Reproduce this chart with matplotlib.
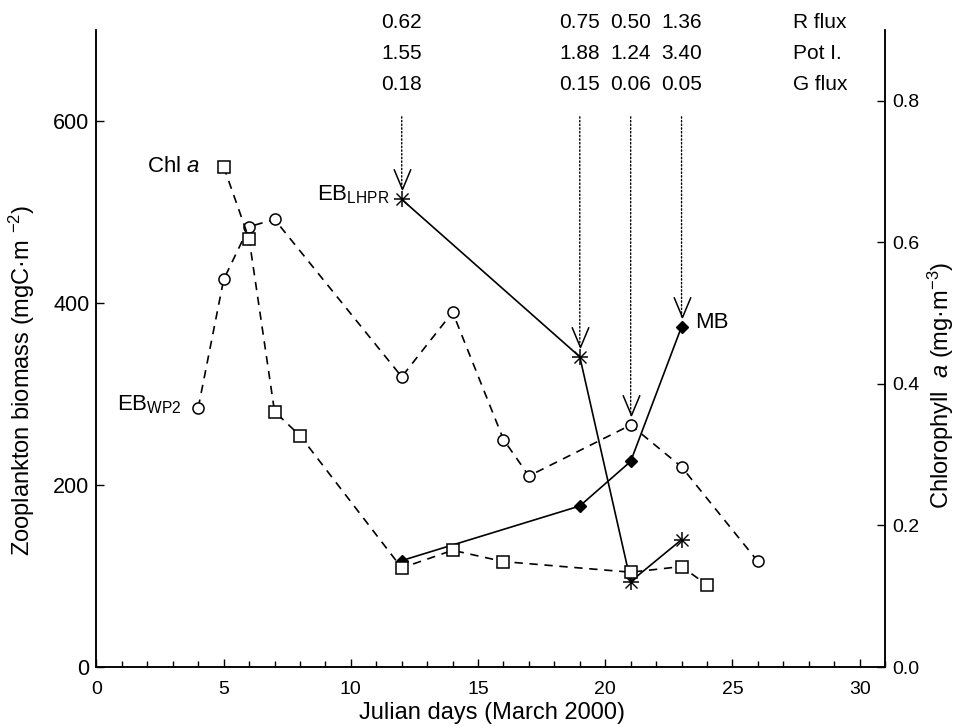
import numpy as np
import matplotlib
matplotlib.use('Agg')
import matplotlib.pyplot as plt
import matplotlib.transforms as mtransforms
from matplotlib.path import Path
from matplotlib.ticker import MultipleLocator, FormatStrFormatter

plt.rcParams['font.family'] = ['Liberation Sans', 'DejaVu Sans']
plt.rcParams['mathtext.fontset'] = 'custom'
plt.rcParams['mathtext.rm'] = 'Liberation Sans'
plt.rcParams['mathtext.it'] = 'Liberation Sans:italic'

# zooplankton biomass, WP2 net (mgC m-2)
wp2_days = [4, 5, 6, 7, 12, 14, 16, 17, 21, 23, 26]
wp2_biomass = [285, 426, 484, 492, 319, 390, 250, 210, 266, 220, 116]
# chlorophyll a (mg m-3)
chl_days = [5, 6, 7, 8, 12, 14, 16, 21, 23, 24]
chl_a = [0.707, 0.605, 0.361, 0.327, 0.140, 0.165, 0.149, 0.134, 0.142, 0.116]
# zooplankton biomass, LHPR
lhpr_days = [12, 19, 21, 23]
lhpr_biomass = [514, 341, 94, 140]
# MB
mb_days = [12, 19, 21, 23]
mb_biomass = [117, 177, 226, 374]

# flux table at top
flux_days = [12, 19, 21, 23]
r_flux = ['0.62', '0.75', '0.50', '1.36']
pot_i = ['1.55', '1.88', '1.24', '3.40']
g_flux = ['0.18', '0.15', '0.06', '0.05']
row_names = ['R flux', 'Pot I.', 'G flux']

# arrows point at these samples
flux_targets = [lhpr_biomass[0], lhpr_biomass[1],
                wp2_biomass[wp2_days.index(21)], mb_biomass[mb_days.index(23)]]

fig = plt.figure(figsize=(9.64, 7.27), dpi=100)
ax = fig.add_axes([0.1001, 0.0825, 0.818, 0.876])
ax2 = ax.twinx()

# lines
ax.plot(wp2_days, wp2_biomass, color='k', lw=1.2, dashes=(5, 4),
        marker='o', ms=8, mfc='white', mec='k', mew=1.1, zorder=3)
ax.plot(lhpr_days, lhpr_biomass, color='k', lw=1.2, marker='+', ms=11, mew=1.1, zorder=4)
ax.plot(lhpr_days, lhpr_biomass, ls='none', marker='x', ms=8, mec='k', mew=1.0, zorder=4)
ax.plot(mb_days, mb_biomass, color='k', lw=1.2, marker='D', ms=6.5, mfc='k', mec='k', zorder=4)
ax2.plot(chl_days, chl_a, color='k', lw=1.2, dashes=(5, 4),
         marker='s', ms=9, mfc='white', mec='k', mew=1.1, zorder=3)

# dotted arrows from the flux table
vpath = Path([(-0.28, 1.0), (0, 0.33), (0.28, 1.0)],
             [Path.MOVETO, Path.LINETO, Path.LINETO])
for d, v in zip(flux_days, flux_targets):
    ax.annotate('', xy=(d, v), xytext=(d, 0.864), textcoords=('data', 'axes fraction'),
                arrowprops=dict(arrowstyle='-', ls=':', lw=1.0, color='k',
                                shrinkA=0, shrinkB=7.2))
ax.plot(flux_days, flux_targets, ls='none', marker=vpath, ms=43.6,
        mfc='none', mec='k', mew=1.1, zorder=5)

# table text
trans = mtransforms.blended_transform_factory(ax.transData, ax.transAxes)
row_y = [1.0126, 0.9639, 0.9152]
for rv, name, yy in zip([r_flux, pot_i, g_flux], row_names, row_y):
    for d, s in zip(flux_days, rv):
        ax.text(d, yy, s, transform=trans, ha='center', va='center', fontsize=15)
    ax.text(27.4, yy, name, transform=trans, ha='left', va='center', fontsize=15)

# series labels
ax2.annotate('Chl $a$', xy=(chl_days[0], chl_a[0]), xytext=(-17, 0),
             textcoords='offset points', ha='right', va='center', fontsize=16)
ax.annotate(r'EB$_{\mathrm{WP2}}$', xy=(wp2_days[0], wp2_biomass[0]), xytext=(-12, -2),
            textcoords='offset points', ha='right', va='baseline', fontsize=16)
ax.annotate(r'EB$_{\mathrm{LHPR}}$', xy=(lhpr_days[0], lhpr_biomass[0]), xytext=(-9, -1),
            textcoords='offset points', ha='right', va='baseline', fontsize=16)
ax.annotate('MB', xy=(mb_days[-1], mb_biomass[-1]), xytext=(10, 3),
            textcoords='offset points', ha='left', va='center', fontsize=16)

# axes
ax.set_xlim(0, 31)
ax.set_ylim(0, 700)
ax2.set_ylim(0, 0.9)
ax.set_xticks(range(0, 31, 5))
ax.xaxis.set_minor_locator(MultipleLocator(1))
ax.set_yticks([0, 200, 400, 600])
ax2.set_yticks([0, 0.2, 0.4, 0.6, 0.8])
ax2.yaxis.set_major_formatter(FormatStrFormatter('%.1f'))

for a in (ax, ax2):
    a.spines['top'].set_visible(False)
    for s in a.spines.values():
        s.set_linewidth(1.1)
ax.tick_params(axis='both', which='major', direction='in', length=6, width=1.0, labelsize=14)
ax.tick_params(axis='x', which='minor', direction='in', length=4, width=1.0)
ax.tick_params(axis='x', pad=10)
ax.tick_params(axis='y', pad=5, labelsize=15.5)
ax2.tick_params(axis='y', direction='in', length=6, width=1.0, labelsize=14, pad=5)

ax.set_xlabel('Julian days (March 2000)', fontsize=17)
ax.xaxis.set_label_coords(0.502, -0.055)
ax.set_ylabel('Zooplankton biomass (mgC·m $^{-2}$)', fontsize=17)
ax.yaxis.set_label_coords(-0.075, 0.45)
ax2.set_ylabel('Chlorophyll  $a$ (mg·m$^{-3}$)', fontsize=17)
ax2.yaxis.set_label_coords(1.052, 0.443)

fig.savefig('out.png', dpi=100)
